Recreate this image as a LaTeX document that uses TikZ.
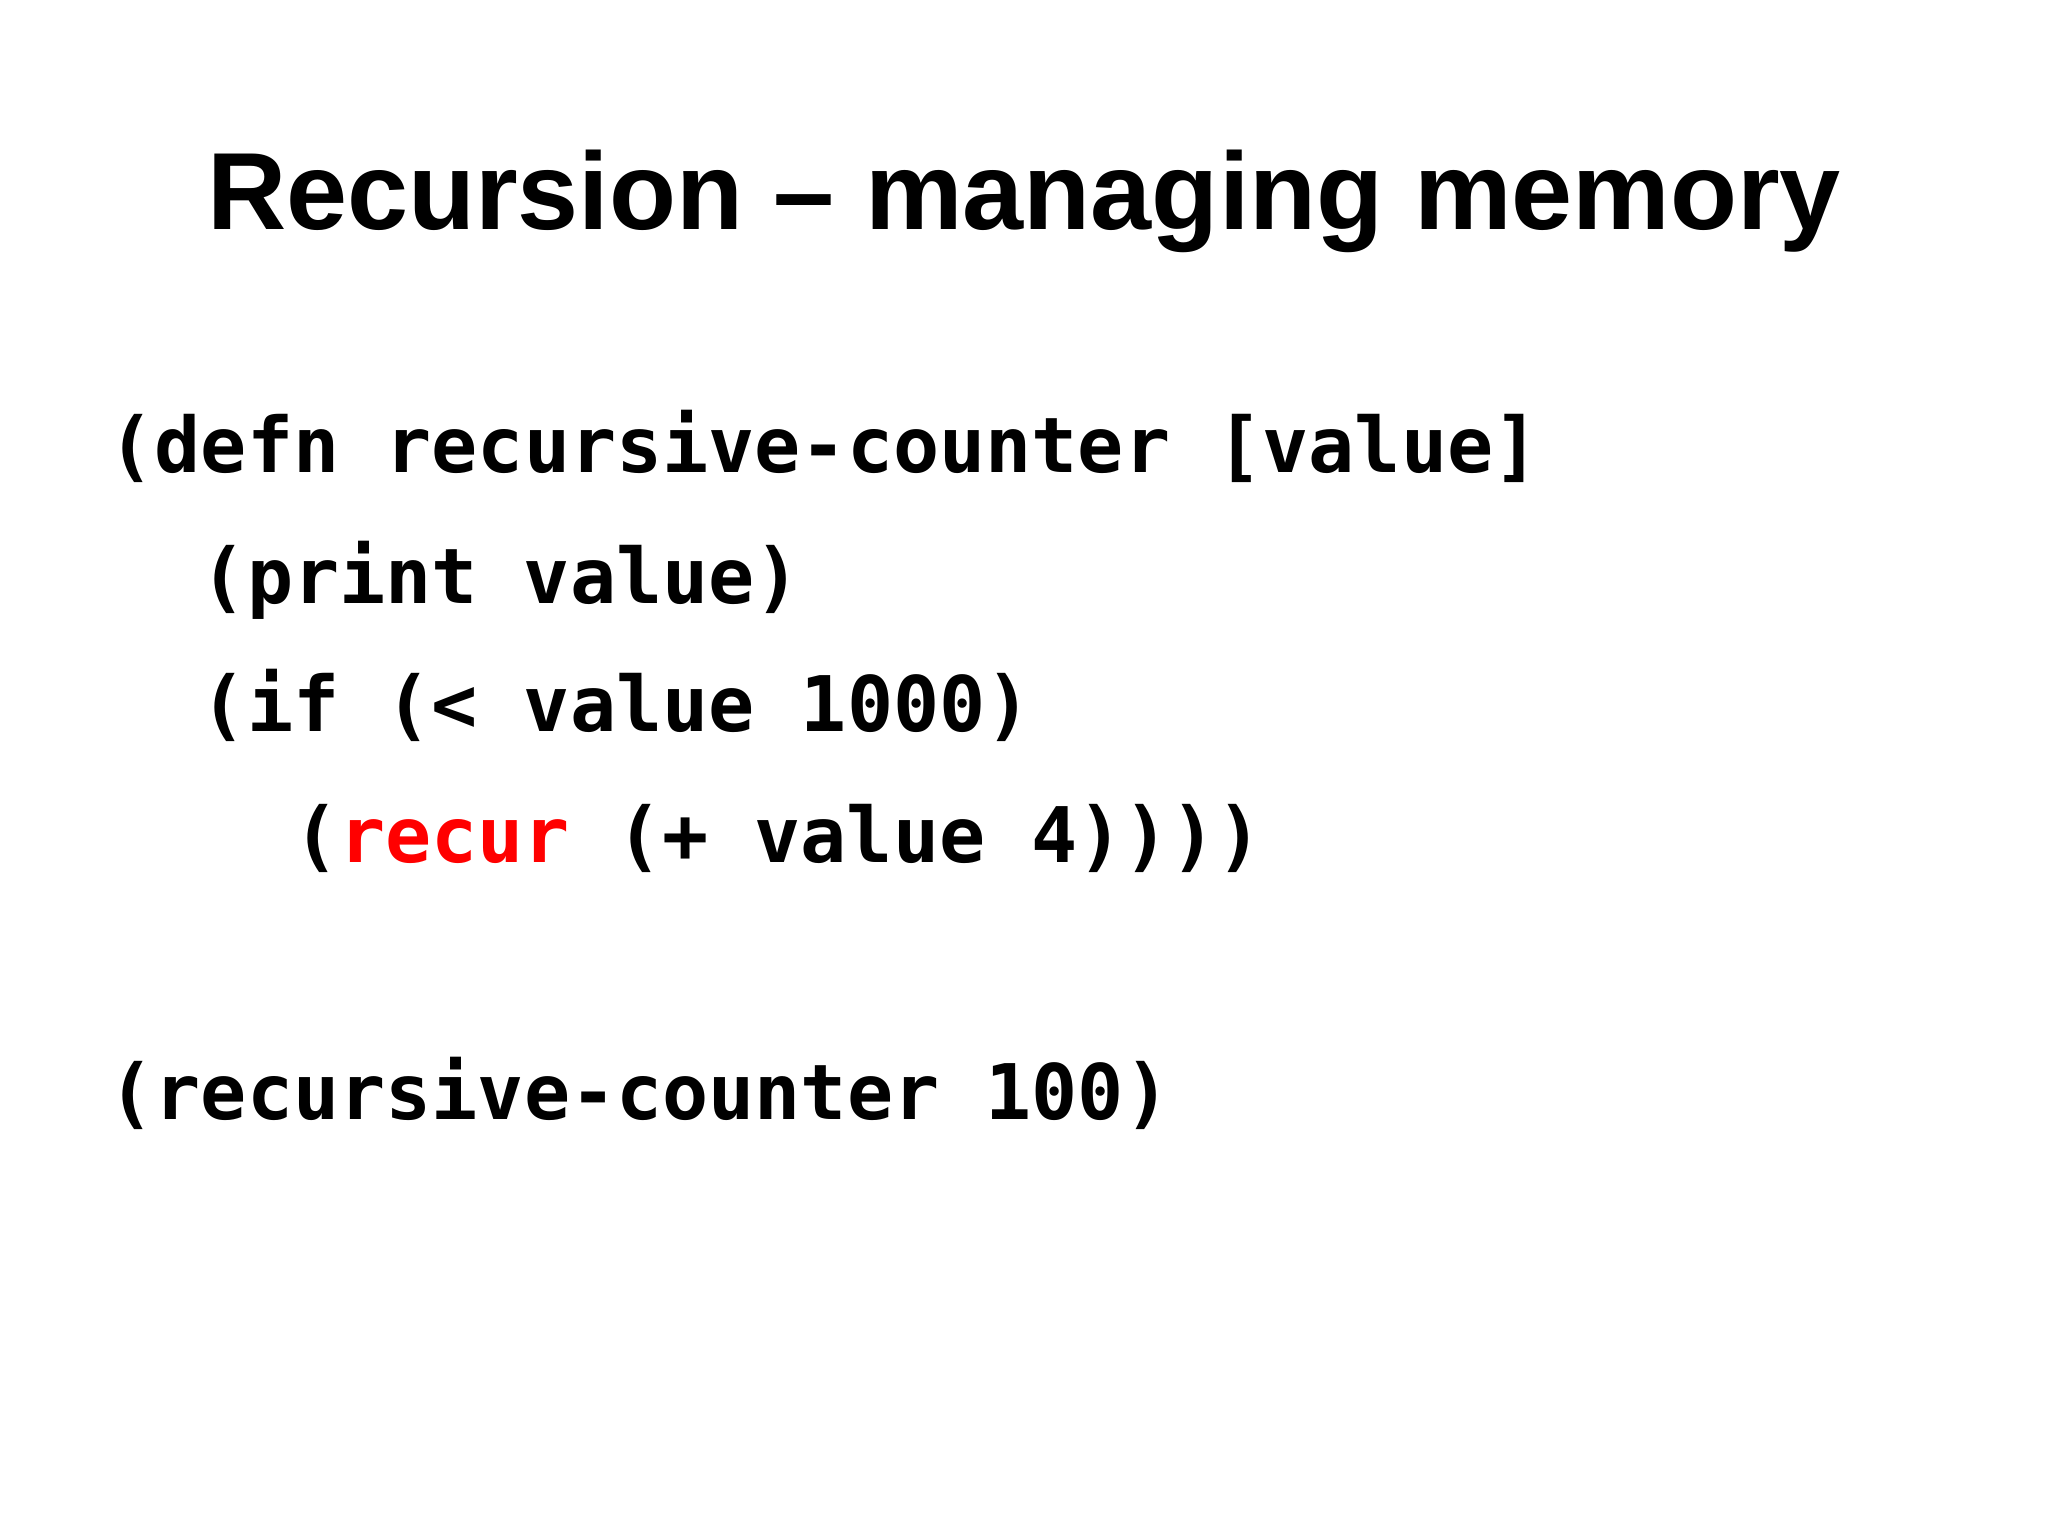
\documentclass[tikz,border=0pt]{standalone}
\usepackage{fontspec}
\setmainfont{Liberation Sans}
\newfontfamily\codefont{DejaVu Sans Mono}
\definecolor{kw}{RGB}{255,0,0}
\begin{document}
\begin{tikzpicture}[x=1pt,y=1pt,
  code/.style={anchor=base west,inner sep=0pt,font=\codefont\bfseries\fontsize{58.7}{60}\selectfont}]
\useasboundingbox (0,0) rectangle (1568,-1175);
\node[anchor=base,inner sep=0pt,font=\bfseries\fontsize{84}{90}\selectfont] (title) at (784,-176) {Recursion -- managing memory};
\node[code] (l1) at (83,-362) {(defn recursive-counter [value]};
\node[code] (l2) at (153.6,-462) {(print value)};
\node[code] (l3) at (153.6,-560) {(if (< value 1000)};
\node[code] (l4) at (224.2,-660) {(\textcolor{kw}{recur} (+ value 4))))};
\node[code] (l5) at (83,-857) {(recursive-counter 100)};
\end{tikzpicture}
\end{document}
